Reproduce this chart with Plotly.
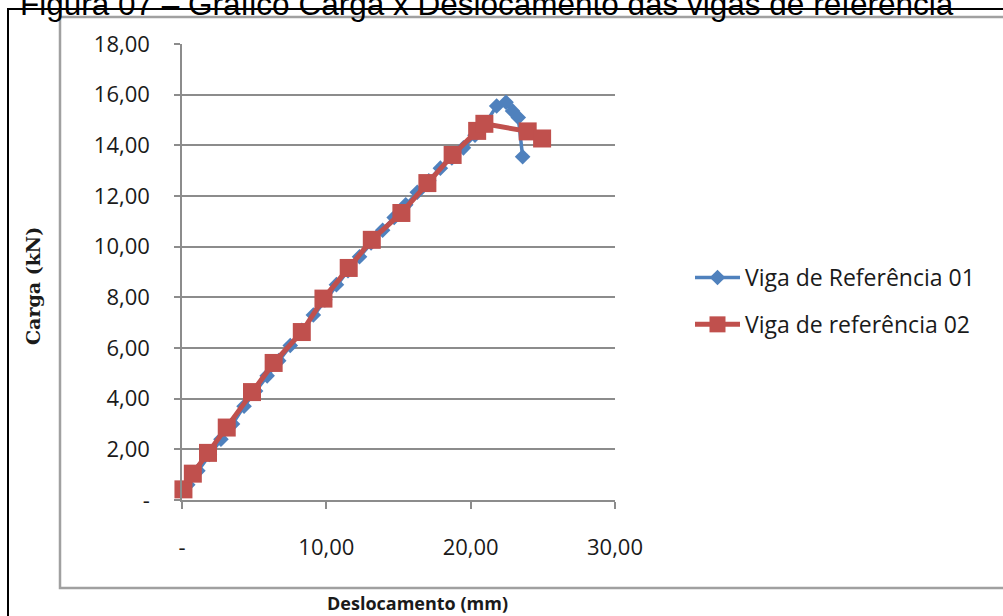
import plotly.graph_objects as go

# ---- data ----
x_ref01 = [0.4, 1.1, 1.9, 2.7, 3.5, 4.3, 5.1, 5.9, 6.7, 7.5, 8.3, 9.1, 9.9, 10.7, 11.5, 12.3,
           13.1, 13.9, 14.7, 15.5, 16.3, 17.1, 17.9, 18.7, 19.5, 20.3, 21.0, 21.8, 22.45, 22.9,
           23.3, 23.6]
y_ref01 = [0.6, 1.15, 1.8, 2.4, 3.0, 3.7, 4.3, 4.9, 5.5, 6.1, 6.7, 7.3, 7.9, 8.5, 9.05, 9.6,
           10.15, 10.65, 11.15, 11.65, 12.15, 12.6, 13.1, 13.5, 13.9, 14.4, 14.85, 15.55, 15.7, 15.36,
           15.1, 13.55]

x_ref02 = [0.1, 0.75, 1.8, 3.1, 4.85, 6.35, 8.3, 9.8, 11.55, 13.15, 15.2, 17.0, 18.75, 20.45,
           20.95, 23.95, 24.95]
y_ref02 = [0.42, 1.04, 1.86, 2.86, 4.26, 5.41, 6.63, 7.95, 9.16, 10.27, 11.33, 12.51, 13.62,
           14.57, 14.85, 14.55, 14.27]

name01 = "Viga de Referência 01"
name02 = "Viga de referência 02"

x_tickvals = [0, 10, 20, 30]
x_ticktext = ["-", "10,00", "20,00", "30,00"]
y_tickvals = [0, 2, 4, 6, 8, 10, 12, 14, 16, 18]
y_ticktext = ["-", "2,00", "4,00", "6,00", "8,00", "10,00", "12,00", "14,00", "16,00", "18,00"]

title_text = "Figura 07 – Gráfico Carga x Deslocamento das vigas de referência"
x_title = "Deslocamento (mm)"
y_title = "Carga (kN)"

BLUE = "#4F81BD"
RED = "#C0504D"
TICKFONT = dict(family="Open Sans", size=22, color="#1a1a1a")

fig = go.Figure()
fig.add_trace(go.Scatter(
    x=x_ref01, y=y_ref01, name=name01, mode="lines+markers",
    line=dict(color=BLUE, width=3.5),
    marker=dict(symbol="diamond", size=12, color=BLUE),
    legendgroup="a", cliponaxis=False,
))
fig.add_trace(go.Scatter(
    x=x_ref02, y=y_ref02, name=name02, mode="lines+markers",
    line=dict(color=RED, width=5),
    marker=dict(symbol="square", size=18, color=RED),
    legendgroup="b", cliponaxis=False,
))

L, R, T, B = 182, 388, 44, 116
W, H = 1003, 616
pw, ph = W - L - R, H - T - B

def px(xp):
    return (xp - L) / pw

def py(yp):
    return (H - B - yp) / ph

shapes = [
    dict(type="rect", xref="paper", yref="paper", x0=px(8), x1=px(1015), y0=py(625), y1=py(9),
         line=dict(color="#000000", width=2), fillcolor="rgba(0,0,0,0)", layer="below"),
    dict(type="rect", xref="paper", yref="paper", x0=px(60), x1=px(1015), y0=py(588), y1=py(17),
         line=dict(color="#a0a0a0", width=2.5), fillcolor="rgba(0,0,0,0)", layer="below"),
]

annotations = [
    dict(text=title_text, xref="paper", yref="paper", x=px(18), y=py(4), xanchor="left",
         yanchor="middle", showarrow=False,
         font=dict(family="Liberation Sans", size=31.5, color="#000000")),
    dict(text="<b>" + x_title + "</b>", xref="paper", yref="paper", x=px(417), y=py(603),
         xanchor="center", yanchor="middle", showarrow=False,
         font=dict(family="Open Sans", size=18, color="#1a1a1a")),
    dict(text="<b>" + y_title + "</b>", xref="paper", yref="paper", x=px(33), y=py(286),
         xanchor="center", yanchor="middle", showarrow=False, textangle=-90,
         font=dict(family="DejaVu Serif", size=19, color="#1a1a1a")),
]

fig.update_layout(
    width=W, height=H,
    margin=dict(l=L, r=R, t=T, b=B),
    paper_bgcolor="white", plot_bgcolor="white",
    showlegend=True,
    legend=dict(x=px(690), y=py(256), xanchor="left", yanchor="top",
                font=dict(family="Open Sans", size=23, color="#1a1a1a"),
                tracegroupgap=14, bgcolor="rgba(0,0,0,0)", itemwidth=45),
    shapes=shapes, annotations=annotations,
    xaxis=dict(range=[0, 30], tickvals=x_tickvals, ticktext=x_ticktext,
               showgrid=False, zeroline=False, showline=True, linecolor="#8c8c8c", linewidth=1.5,
               ticks="outside", ticklen=7, tickcolor="#8c8c8c", tickwidth=1.5,
               tickfont=TICKFONT, ticklabelstandoff=20),
    yaxis=dict(range=[0, 18], tickvals=y_tickvals, ticktext=y_ticktext,
               showgrid=True, gridcolor="#8c8c8c", gridwidth=1.5, zeroline=False,
               showline=True, linecolor="#8c8c8c", linewidth=1.5,
               ticks="outside", ticklen=6, tickcolor="#8c8c8c", tickwidth=1.5,
               tickfont=TICKFONT, ticklabelstandoff=20),
)

fig.write_html("out.html")
